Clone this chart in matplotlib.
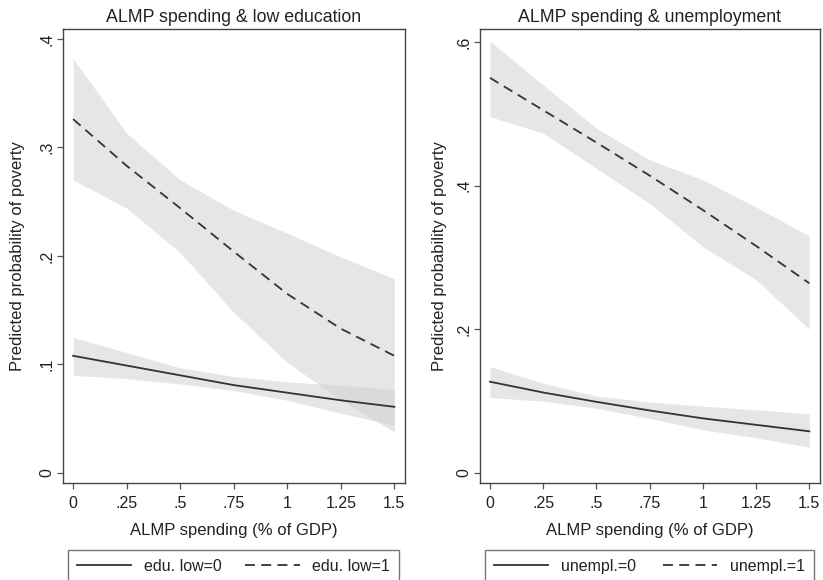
import numpy as np
import matplotlib
matplotlib.use("Agg")
import matplotlib.pyplot as plt

plt.rcParams['font.family'] = ['Liberation Sans', 'DejaVu Sans']

# ALMP spending grid (% of GDP)
almp = [0, 0.25, 0.5, 0.75, 1.0, 1.25, 1.5]
x_ticks = [0, 0.25, 0.5, 0.75, 1.0, 1.25, 1.5]
x_ticklabels = ['0', '.25', '.5', '.75', '1', '1.25', '1.5']

# left panel: low education
edu0 = [0.108, 0.099, 0.090, 0.081, 0.074, 0.067, 0.061]
edu0_hi = [0.125, 0.111, 0.097, 0.089, 0.084, 0.081, 0.077]
edu0_lo = [0.090, 0.087, 0.082, 0.076, 0.067, 0.055, 0.044]
edu1 = [0.326, 0.283, 0.244, 0.204, 0.165, 0.133, 0.108]
edu1_hi = [0.382, 0.313, 0.270, 0.242, 0.221, 0.199, 0.179]
edu1_lo = [0.270, 0.244, 0.203, 0.148, 0.102, 0.067, 0.038]

# right panel: unemployment
une0 = [0.127, 0.112, 0.099, 0.087, 0.076, 0.067, 0.058]
une0_hi = [0.148, 0.125, 0.107, 0.099, 0.093, 0.088, 0.082]
une0_lo = [0.105, 0.100, 0.090, 0.076, 0.060, 0.049, 0.036]
une1 = [0.550, 0.505, 0.460, 0.414, 0.366, 0.316, 0.264]
une1_hi = [0.601, 0.540, 0.480, 0.436, 0.408, 0.370, 0.330]
une1_lo = [0.496, 0.473, 0.424, 0.375, 0.315, 0.269, 0.200]

line_col = '#333333'
band_col = '#cfcfcf'

fig = plt.figure(figsize=(8.23, 5.80), dpi=100)
ax1 = fig.add_axes([0.0766, 0.1672, 0.4155, 0.7828])
ax2 = fig.add_axes([0.5832, 0.1672, 0.4131, 0.7828])

panels = [
    (ax1, 'ALMP spending & low education', edu0, edu0_lo, edu0_hi, edu1, edu1_lo, edu1_hi,
     ['edu. low=0', 'edu. low=1'], [0, 0.1, 0.2, 0.3, 0.4], ['0', '.1', '.2', '.3', '.4'], (-0.0092, 0.409), 10),
    (ax2, 'ALMP spending & unemployment', une0, une0_lo, une0_hi, une1, une1_lo, une1_hi,
     ['unempl.=0', 'unempl.=1'], [0, 0.2, 0.4, 0.6], ['0', '.2', '.4', '.6'], (-0.014, 0.618), 7),
]

for ax, title, y0, lo0, hi0, y1, lo1, hi1, labs, yt, ytl, ylim, ypad in panels:
    ax.fill_between(almp, lo1, hi1, color=band_col, alpha=0.5, lw=0)
    ax.fill_between(almp, lo0, hi0, color=band_col, alpha=0.5, lw=0)
    l0, = ax.plot(almp, y0, color=line_col, lw=1.3, ls='-')
    l1, = ax.plot(almp, y1, color=line_col, lw=1.3, ls=(0, (5.5, 3.5)))
    ax.set_xlim(-0.047, 1.55)
    ax.set_ylim(*ylim)
    ax.set_xticks(x_ticks)
    ax.set_xticklabels(x_ticklabels)
    ax.set_yticks(yt)
    ax.set_yticklabels(ytl, rotation=90, va='center')
    ax.tick_params(direction='out', length=4.3, width=0.9, color='#555555',
                   labelsize=11.5, labelcolor='#222222')
    ax.tick_params(axis='x', pad=5)
    ax.tick_params(axis='y', pad=2)
    for sp in ax.spines.values():
        sp.set_color('#444444')
        sp.set_linewidth(1.0)
    ax.set_title(title, fontsize=12.8, color='#222222', pad=5)
    ax.set_xlabel('ALMP spending (% of GDP)', fontsize=12, color='#222222', labelpad=9)
    ax.set_ylabel('Predicted probability of poverty', fontsize=12, color='#222222', labelpad=ypad)
    leg = ax.legend([l0, l1], labs, loc='upper left', bbox_to_anchor=(0.015, -0.148, 0.967, 0),
                    mode='expand', ncol=2, fancybox=False, frameon=True, fontsize=11.5,
                    handlelength=3.4, handletextpad=0.8, borderpad=0.55, borderaxespad=0,
                    columnspacing=1.5)
    leg.get_frame().set_edgecolor('#555555')
    leg.get_frame().set_linewidth(1.0)
    for t in leg.get_texts():
        t.set_color('#222222')

fig.savefig('out.png', dpi=100)
